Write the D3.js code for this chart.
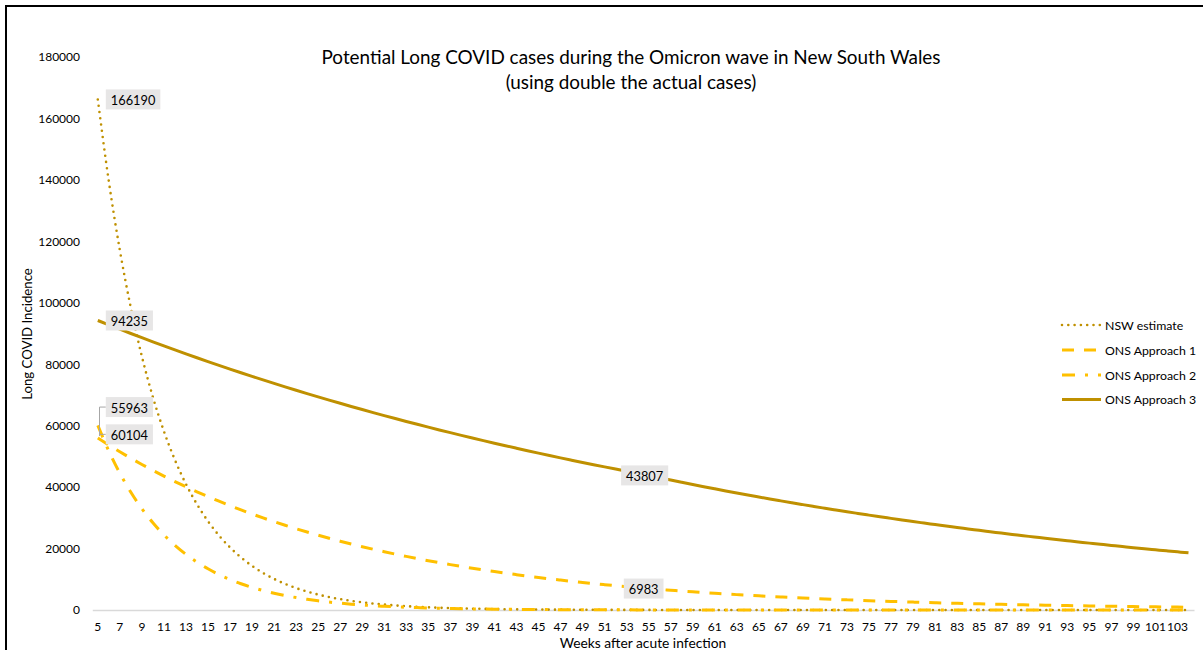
<!DOCTYPE html>
<html>
<head>
<meta charset="utf-8">
<script src="https://cdn.jsdelivr.net/npm/d3@7"></script>
<style>
  body { margin: 0; background: #fff; }
  svg { display: block; font-family: Lato, "Open Sans", sans-serif; }
</style>
</head>
<body>
<svg id="chart" width="1203" height="650"></svg>
<script>
// weeks after acute infection (5 .. 104)
const weeks = d3.range(5, 105);

const seriesNames = ["NSW estimate", "ONS Approach 1", "ONS Approach 2", "ONS Approach 3"];

const nswEstimate = [
  166190, 139517, 117125, 98326, 82545, 69297, 58175, 48838, 41000, 34419,
  28895, 24258, 20364, 17096, 14352, 12049, 10115, 8492, 7129, 5985,
  5024, 4218, 3541, 2973, 2496, 2095, 1759, 1477, 1240, 1041,
  874, 733, 616, 517, 434, 364, 306, 257, 215, 181,
  152, 127, 107, 90, 75, 63, 53, 45, 37, 31,
  26, 22, 19, 16, 13, 11, 9, 8, 7, 6,
  5, 4, 3, 3, 2, 2, 2, 1, 1, 1,
  1, 1, 1, 0, 0, 0, 0, 0, 0, 0,
  0, 0, 0, 0, 0, 0, 0, 0, 0, 0,
  0, 0, 0, 0, 0, 0, 0, 0, 0, 0
];

const onsApproach1 = [
  55963, 53681, 51493, 49394, 47380, 45448, 43595, 41818, 40113, 38478,
  36909, 35404, 33961, 32576, 31248, 29974, 28752, 27580, 26455, 25377,
  24342, 23350, 22398, 21485, 20609, 19769, 18963, 18190, 17448, 16737,
  16054, 15400, 14772, 14170, 13592, 13038, 12506, 11996, 11507, 11038,
  10588, 10156, 9742, 9345, 8964, 8599, 8248, 7912, 7589, 7280,
  6983, 6698, 6425, 6163, 5912, 5671, 5440, 5218, 5005, 4801,
  4605, 4418, 4238, 4065, 3899, 3740, 3588, 3441, 3301, 3166,
  3037, 2913, 2795, 2681, 2571, 2467, 2366, 2270, 2177, 2088,
  2003, 1921, 1843, 1768, 1696, 1627, 1560, 1497, 1436, 1377,
  1321, 1267, 1215, 1166, 1118, 1073, 1029, 987, 947, 908
];

const onsApproach2 = [
  60104, 51732, 44526, 38323, 32985, 28390, 24436, 21032, 18102, 15581,
  13410, 11542, 9934, 8551, 7360, 6334, 5452, 4693, 4039, 3476,
  2992, 2575, 2217, 1908, 1642, 1413, 1216, 1047, 901, 776,
  668, 575, 494, 426, 366, 315, 271, 234, 201, 173,
  149, 128, 110, 95, 82, 70, 61, 52, 45, 39,
  33, 29, 25, 21, 18, 16, 14, 12, 10, 9,
  8, 7, 6, 5, 4, 4, 3, 3, 2, 2,
  2, 2, 1, 1, 1, 1, 1, 1, 1, 1,
  0, 0, 0, 0, 0, 0, 0, 0, 0, 0,
  0, 0, 0, 0, 0, 0, 0, 0, 0, 0
];

const onsApproach3 = [
  94235, 92803, 91392, 90003, 88635, 87288, 85961, 84654, 83367, 82100,
  80852, 79623, 78413, 77221, 76047, 74891, 73753, 72632, 71528, 70441,
  69370, 68316, 67277, 66255, 65248, 64256, 63279, 62317, 61370, 60437,
  59518, 58614, 57723, 56846, 55982, 55131, 54293, 53467, 52655, 51854,
  51066, 50290, 49525, 48773, 48031, 47301, 46582, 45874, 45177, 44490,
  43807, 43048, 42302, 41569, 40848, 40140, 39445, 38761, 38089, 37429,
  36781, 36143, 35517, 34901, 34296, 33702, 33118, 32544, 31980, 31426,
  30881, 30346, 29820, 29303, 28795, 28296, 27806, 27324, 26850, 26385,
  25928, 25478, 25037, 24603, 24177, 23758, 23346, 22941, 22544, 22153,
  21769, 21392, 21021, 20657, 20299, 19947, 19601, 19262, 18928, 18600
];

// weeks that carry a data label, per series
const labelWeeks = [[5], [5, 55], [5], [5, 55]];

const yTicks = d3.range(0, 180001, 20000);
const xTickWeeks = weeks.filter(w => w % 2 === 1);

const series = [nswEstimate, onsApproach1, onsApproach2, onsApproach3];

// styles per series
const colors = ["#BF9000", "#FFC000", "#FFC000", "#BF9000"];
const dashes = ["0,6.3", "12,10", "13,10,3,10", null];
const widths = [2.6, 3, 3, 3];
const caps = ["round", "butt", "butt", "butt"];

const svg = d3.select("#chart");

// outer frame
svg.append("rect")
    .attr("x", 6).attr("y", 6)
    .attr("width", 1300).attr("height", 800)
    .attr("fill", "none")
    .attr("stroke", "#000")
    .attr("stroke-width", 2);

const x = d3.scaleBand()
    .domain(weeks)
    .range([92.3, 1194]);

const y = d3.scaleLinear()
    .domain([0, 180000])
    .range([610, 57]);

const cx = w => x(w) + x.bandwidth() / 2;

// y axis
const yAxis = svg.append("g")
    .attr("transform", "translate(92,0)")
    .call(d3.axisLeft(y).tickValues(yTicks).tickSize(0).tickPadding(12).tickFormat(d3.format("d")));
yAxis.select(".domain").remove();
yAxis.selectAll("text")
    .attr("font-family", "Lato, sans-serif")
    .attr("font-size", 12)
    .attr("fill", "#000");

// x axis
const xAxis = svg.append("g")
    .attr("transform", "translate(0,610)")
    .call(d3.axisBottom(x).tickValues(xTickWeeks).tickSize(0).tickSizeOuter(0).tickPadding(12));
xAxis.select(".domain")
    .attr("stroke", "#D9D9D9")
    .attr("stroke-width", 1.5);
xAxis.selectAll("text")
    .attr("font-family", "Lato, sans-serif")
    .attr("font-size", 12)
    .attr("fill", "#000");

// axis titles
svg.append("text")
    .attr("x", 643).attr("y", 648)
    .attr("text-anchor", "middle")
    .attr("font-size", 13.8)
    .text("Weeks after acute infection");

svg.append("text")
    .attr("transform", "translate(32,334) rotate(-90)")
    .attr("text-anchor", "middle")
    .attr("font-size", 13.2)
    .text("Long COVID Incidence");

// title
const title = svg.append("text")
    .attr("x", 631)
    .attr("text-anchor", "middle")
    .attr("font-size", 18.9)
    .attr("fill", "#000");
title.append("tspan").attr("x", 631).attr("y", 63.5)
    .text("Potential Long COVID cases during the Omicron wave in New South Wales");
title.append("tspan").attr("x", 631).attr("y", 88.5)
    .text("(using double the actual cases)");

// lines
const line = d3.line()
    .x((d, i) => cx(weeks[i]))
    .y(d => y(d))
    .curve(d3.curveMonotoneX);

const plot = svg.append("g");
series.forEach((s, k) => {
  plot.append("path")
      .datum(s)
      .attr("fill", "none")
      .attr("stroke", colors[k])
      .attr("stroke-width", widths[k])
      .attr("stroke-dasharray", dashes[k])
      .attr("stroke-linecap", caps[k])
      .attr("d", line);
});

// data labels
const labelG = svg.append("g").attr("font-size", 12.8);

function addLabel(k, week, pos) {
  const v = series[k][weeks.indexOf(week)];
  const px = cx(week), py = y(v);
  const g = labelG.append("g");
  const t = g.append("text")
      .attr("text-anchor", "middle")
      .attr("dominant-baseline", "central")
      .attr("fill", "#000")
      .text(v);
  const tw = t.node().getComputedTextLength();
  const bw = tw + 10, bh = 20;
  let lx, ly;
  if (pos.type === "right") {
    lx = px + 8 + bw / 2;
    ly = py + (pos.dy || 0);
  } else {
    lx = px + (pos.dx || 0);
    ly = py + (pos.dy || 0);
  }
  g.insert("rect", "text")
      .attr("x", lx - bw / 2).attr("y", ly - bh / 2)
      .attr("width", bw).attr("height", bh)
      .attr("fill", "#E7E6E6");
  t.attr("x", lx).attr("y", ly + 0.5);
  if (pos.leader) {
    labelG.insert("path", ":first-child")
        .attr("d", `M${lx - bw / 2},${ly} H${px + 1.7} V${py + pos.leader}`)
        .attr("fill", "none")
        .attr("stroke", "#A6A6A6")
        .attr("stroke-width", 1);
  }
}

const labelPos = {
  "0-5": { type: "right" },
  "1-5": { type: "right", dy: -31, leader: -2 },
  "1-55": { dx: -5 },
  "2-5": { type: "right", dy: 9, leader: 9 },
  "3-5": { type: "right" },
  "3-55": { dx: -4 }
};
labelWeeks.forEach((ws, k) => ws.forEach(w => addLabel(k, w, labelPos[k + "-" + w])));

// legend
const legend = svg.append("g").attr("font-size", 12.3);
const legendY = [325, 350, 375, 399.5];
seriesNames.forEach((name, k) => {
  legend.append("line")
      .attr("x1", 1062).attr("x2", 1101)
      .attr("y1", legendY[k]).attr("y2", legendY[k])
      .attr("stroke", colors[k])
      .attr("stroke-width", widths[k])
      .attr("stroke-dasharray", dashes[k])
      .attr("stroke-linecap", caps[k]);
  legend.append("text")
      .attr("x", 1105).attr("y", legendY[k])
      .attr("dominant-baseline", "central")
      .text(name);
});
</script>
</body>
</html>
